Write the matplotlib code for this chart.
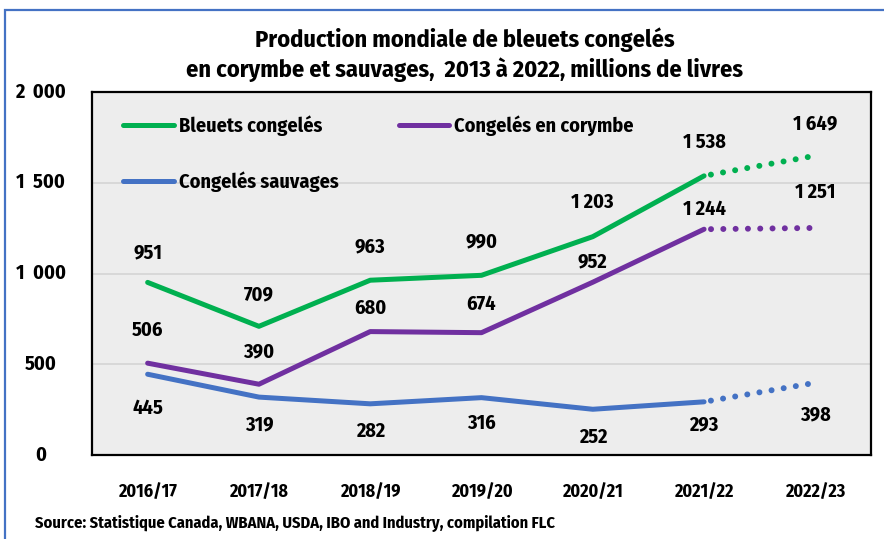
import matplotlib
matplotlib.use("Agg")
import matplotlib.pyplot as plt
from matplotlib.patches import Rectangle
from matplotlib.lines import Line2D

plt.rcParams['font.family'] = ['Fira Sans Condensed', 'DejaVu Sans']
plt.rcParams['font.weight'] = 'bold'

# --- data ---
seasons = ["2016/17", "2017/18", "2018/19", "2019/20", "2020/21", "2021/22", "2022/23"]
total = [951, 709, 963, 990, 1203, 1538, 1649]
highbush = [506, 390, 680, 674, 952, 1244, 1251]
wild = [445, 319, 282, 316, 252, 293, 398]
y_ticks = [0, 500, 1000, 1500, 2000]
y_tick_labels = ["0", "500", "1  000", "1  500", "2  000"]

GREEN = "#00B050"
PURPLE = "#7030A0"
BLUE = "#4472C4"

# label offsets in pixels (dy), positive = up
off_total = [30, 32, 33, 34, 34, 33, 32]
off_high = [33, 32, 23, 28, 20, 20, 36]
off_wild = [-34, -28, -28, -26, -28, -23, -32]


def fmt(v):
    return f"{v:,}".replace(",", " ")


fig = plt.figure(figsize=(8.84, 5.39), dpi=100)
fig.patch.set_facecolor("white")
ax = fig.add_axes([92 / 884, 1 - 455 / 539, (871 - 92) / 884, (455 - 92) / 539])
ax.set_facecolor("#EDEDED")

x = list(range(len(seasons)))
last = len(seasons) - 2  # last actual season, then projection

for vals, col, offs in [(total, GREEN, off_total), (highbush, PURPLE, off_high), (wild, BLUE, off_wild)]:
    ax.plot(x[:last + 1], vals[:last + 1], color=col, lw=3.6, solid_capstyle="round",
            solid_joinstyle="round", zorder=3)
    ax.plot(x[last:], vals[last:], color=col, lw=4.3, linestyle=(0.9, (0.01, 2.05)),
            dash_capstyle="round", zorder=3)
    for xi, v, o in zip(x, vals, offs):
        ax.annotate(fmt(v), (xi, v), xytext=(0, o * 0.72), textcoords="offset points",
                    ha="center", va="center", fontsize=14.5, fontweight="bold", color="black")

ax.set_xlim(-0.5, len(seasons) - 0.5)
ax.set_ylim(0, 2000)
ax.set_yticks(y_ticks)
ax.set_yticklabels([])
for t, lab in zip(y_ticks, y_tick_labels):
    ax.text(-0.066, t, lab, transform=ax.get_yaxis_transform(), ha="center", va="center",
            fontsize=14.5, fontweight="bold")
ax.set_xticks(x)
ax.set_xticklabels(seasons, fontsize=13, fontweight="bold")
ax.tick_params(axis="both", length=0)
ax.tick_params(axis="x", pad=20)
ax.grid(axis="y", color="#D6D6D6", lw=1.3)
ax.set_axisbelow(True)
for s in ax.spines.values():
    s.set_linewidth(1.6)
    s.set_color("black")

handles = [Line2D([], [], color=GREEN, lw=3.6, solid_capstyle="round"),
           Line2D([], [], color=BLUE, lw=3.6, solid_capstyle="round"),
           Line2D([], [], color=PURPLE, lw=3.6, solid_capstyle="round")]
labels = ["Bleuets congelés", "Congelés sauvages", "Congelés en corymbe"]
ax.legend(handles, labels, ncol=2, loc="upper left", bbox_to_anchor=(0.040, 0.935),
          borderaxespad=0, borderpad=0, frameon=False, handlelength=2.5, handletextpad=0.25,
          labelspacing=1.76, columnspacing=3.0, prop={"weight": "bold", "size": 14.5})

fig.text(465 / 884, 1 - 40 / 539, "Production mondiale de bleuets congelés",
         ha="center", va="center", fontsize=17.5, fontweight="bold")
fig.text(465 / 884, 1 - 70 / 539, "en corymbe et sauvages,  2013 à 2022, millions de livres",
         ha="center", va="center", fontsize=17.5, fontweight="bold")
fig.text(35 / 884, 1 - 524 / 539, "Source: Statistique Canada, WBANA, USDA, IBO and Industry, compilation FLC",
         ha="left", va="center", fontsize=11.8, fontweight="bold")

# outer blue frame
fig.add_artist(Rectangle((5 / 884, -0.05), 1.1, 1.05 - 10 / 539, transform=fig.transFigure,
                         fill=False, edgecolor=BLUE, lw=1.6))

fig.savefig("out.png", dpi=100)
